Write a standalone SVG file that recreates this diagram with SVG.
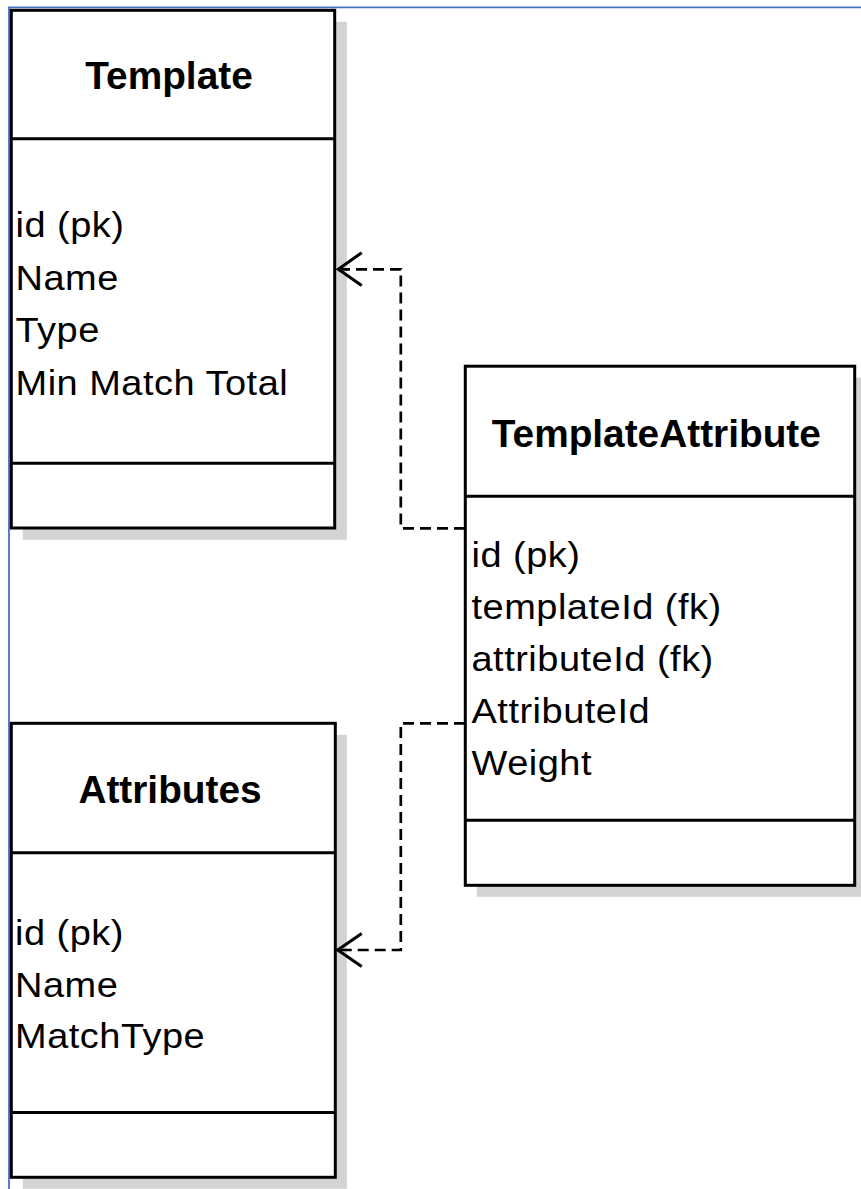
<svg xmlns="http://www.w3.org/2000/svg" width="861" height="1189" viewBox="0 0 861 1189">
  <style>
    .shadow { fill: #d3d3d3; stroke: none; }
    .box { fill: #ffffff; stroke: #000000; stroke-width: 3; }
    .sep { stroke: #000000; stroke-width: 3; fill: none; }
    .title { font-family: "Liberation Sans", Arial, sans-serif; font-weight: bold; font-size: 38.8px; fill: #000000; text-anchor: middle; }
    .field { font-family: "Liberation Sans", Arial, sans-serif; font-size: 38px; letter-spacing: 0.5px; fill: #000000; }
    .dep { fill: none; stroke: #000000; stroke-width: 2.7; stroke-dasharray: 11 6; }
    .head { fill: none; stroke: #000000; stroke-width: 3; stroke-linecap: butt; }
  </style>

  <rect x="0" y="0" width="861" height="1189" fill="#ffffff"/>

  <!-- page frame edge -->
  <path d="M 9 1189 V 7.3 H 861" fill="none" stroke="#4472c4" stroke-width="1.8"/>

  <!-- class: Template -->
  <g id="template">
    <rect class="shadow" x="22.8" y="21.8" width="324" height="518"/>
    <rect class="box" x="11.3" y="10.3" width="323.4" height="517.7"/>
    <line class="sep" x1="11.3" y1="138.7" x2="334.7" y2="138.7"/>
    <line class="sep" x1="11.3" y1="463.3" x2="334.7" y2="463.3"/>
    <text class="title" x="169" y="89.3">Template</text>
    <text class="field" transform="translate(15.5,237) scale(1,0.9)">id (pk)</text>
    <text class="field" transform="translate(15.5,289.5) scale(1,0.9)">Name</text>
    <text class="field" transform="translate(15.5,342) scale(1,0.9)">Type</text>
    <text class="field" transform="translate(15.5,394.5) scale(1,0.9)">Min Match Total</text>
  </g>

  <!-- class: TemplateAttribute -->
  <g id="template-attribute">
    <rect class="shadow" x="476.8" y="377.7" width="389.4" height="519.1"/>
    <rect class="box" x="465.3" y="366.2" width="389.4" height="519.1"/>
    <line class="sep" x1="465.3" y1="496.2" x2="854.7" y2="496.2"/>
    <line class="sep" x1="465.3" y1="820.3" x2="854.7" y2="820.3"/>
    <text class="title" x="656.3" y="446.7">TemplateAttribute</text>
    <text class="field" transform="translate(471.5,567) scale(1,0.9)">id (pk)</text>
    <text class="field" transform="translate(471.5,619) scale(1,0.9)">templateId (fk)</text>
    <text class="field" transform="translate(471.5,671) scale(1,0.9)">attributeId (fk)</text>
    <text class="field" transform="translate(471.5,723) scale(1,0.9)">AttributeId</text>
    <text class="field" transform="translate(471.5,775) scale(1,0.9)">Weight</text>
  </g>

  <!-- class: Attributes -->
  <g id="attributes">
    <rect class="shadow" x="22.8" y="734.8" width="324" height="454"/>
    <rect class="box" x="11.3" y="723.3" width="324" height="454"/>
    <line class="sep" x1="11.3" y1="852.8" x2="335.3" y2="852.8"/>
    <line class="sep" x1="11.3" y1="1112.5" x2="335.3" y2="1112.5"/>
    <text class="title" x="170" y="802.7">Attributes</text>
    <text class="field" transform="translate(15,945) scale(1,0.9)">id (pk)</text>
    <text class="field" transform="translate(15,996.5) scale(1,0.9)">Name</text>
    <text class="field" transform="translate(15,1048) scale(1,0.9)">MatchType</text>
  </g>

  <!-- dependency connectors -->
  <g id="connectors">
    <path class="dep" d="M 465 528.3 H 400.8 V 269.3 H 340"/>
    <path class="head" d="M 361.7 252.7 L 338.3 269.3 L 361.7 285.5"/>
    <path class="dep" d="M 465 723.3 H 400.8 V 950 H 340"/>
    <path class="head" d="M 361.7 933.5 L 337.7 950 L 361.7 966.5"/>
  </g>
</svg>
